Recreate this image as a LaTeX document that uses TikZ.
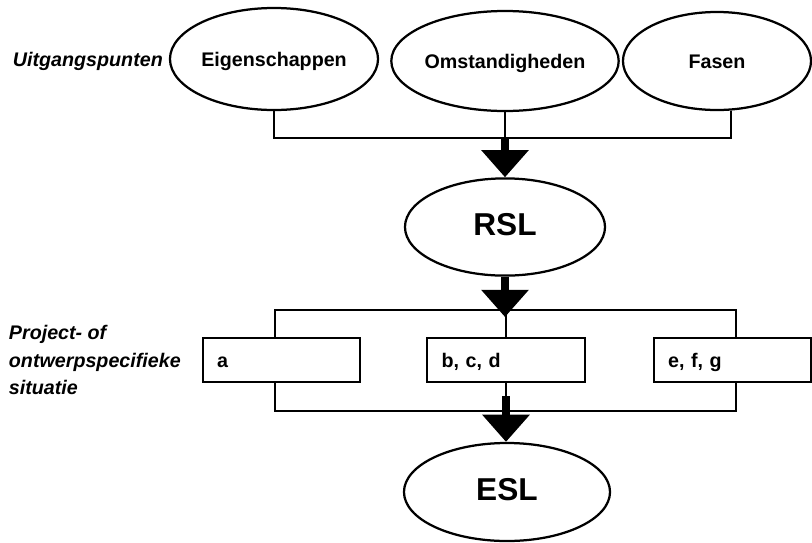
\documentclass[tikz,border=0pt]{standalone}
\usepackage{fontspec}
\setmainfont{Liberation Sans}
\usetikzlibrary{shapes.geometric,arrows.meta}

\begin{document}
\begin{tikzpicture}[x=0.025cm,y=-0.025cm,
  oval/.style={ellipse,draw,line width=1.6pt,inner sep=0pt,text height=2ex,text depth=0pt,font=\fontsize{14}{16}\selectfont\bfseries},
  bigoval/.style={oval,text height=2.25ex,text depth=0pt,font=\fontsize{22.5}{26}\selectfont\bfseries},
  sitbox/.style={rectangle,draw,fill=white,line width=1.6pt,minimum height=1.1cm,text width=3.22cm,text height=2ex,text depth=0pt,inner xsep=0.36cm,align=left,font=\fontsize{14}{16}\selectfont\bfseries},
  lbl/.style={align=left,font=\fontsize{14}{19.5}\selectfont\bfseries\itshape},
  con/.style={line width=1.3pt},
  bigarrow/.style={line width=0.2cm,-{Triangle[width=1.15cm,length=0.68cm]}}]
\useasboundingbox (0,0) rectangle (812,542);

% uitgangspunten
\node[lbl,anchor=west] (uit) at (8,61) {Uitgangspunten};
\node[oval,minimum width=5.2cm,minimum height=2.55cm] (eig) at (274,59) {Eigenschappen};
\node[oval,minimum width=4.95cm,minimum height=2.5cm] (oms) at (505,61) {Omstandigheden};
\node[oval,minimum width=4.7cm,minimum height=2.45cm] (fas) at (717,61) {Fasen};

\coordinate (join) at (505,138);
\draw[con] (eig.south) |- (join) -| (fas.-74);
\draw[con] (oms.south) -- (join);

\node[bigoval,minimum width=5.0cm,minimum height=2.43cm] (rsl) at (505,227) {RSL};
\draw[bigarrow] (join) -- (rsl.north);

% project- of ontwerpspecifieke situatie
\coordinate (ftl) at (275,310);
\coordinate (fbr) at (736,411);
\draw[con] (ftl) rectangle (fbr);
\node[lbl,anchor=west] (proj) at (4,360) {Project- of\\ontwerpspecifieke\\situatie};
\node[sitbox] (a) at (281.5,360) {a};
\node[sitbox] (bcd) at (506,360) {b, c, d};
\node[sitbox] (efg) at (732.5,360) {e, f, g};

\coordinate (tip) at (505,317);
\draw[con] (bcd.north) -- (bcd.north |- ftl);
\draw[bigarrow] (rsl.south) -- (rsl.south |- tip);

\node[bigoval,minimum width=5.15cm,minimum height=2.45cm] (esl) at (507,492) {ESL};
\coordinate (merge) at (bcd.south |- 0,396);
\draw[con] (bcd.south) -- (merge);
\draw[bigarrow] (merge) -- (merge |- esl.north);
\end{tikzpicture}
\end{document}
